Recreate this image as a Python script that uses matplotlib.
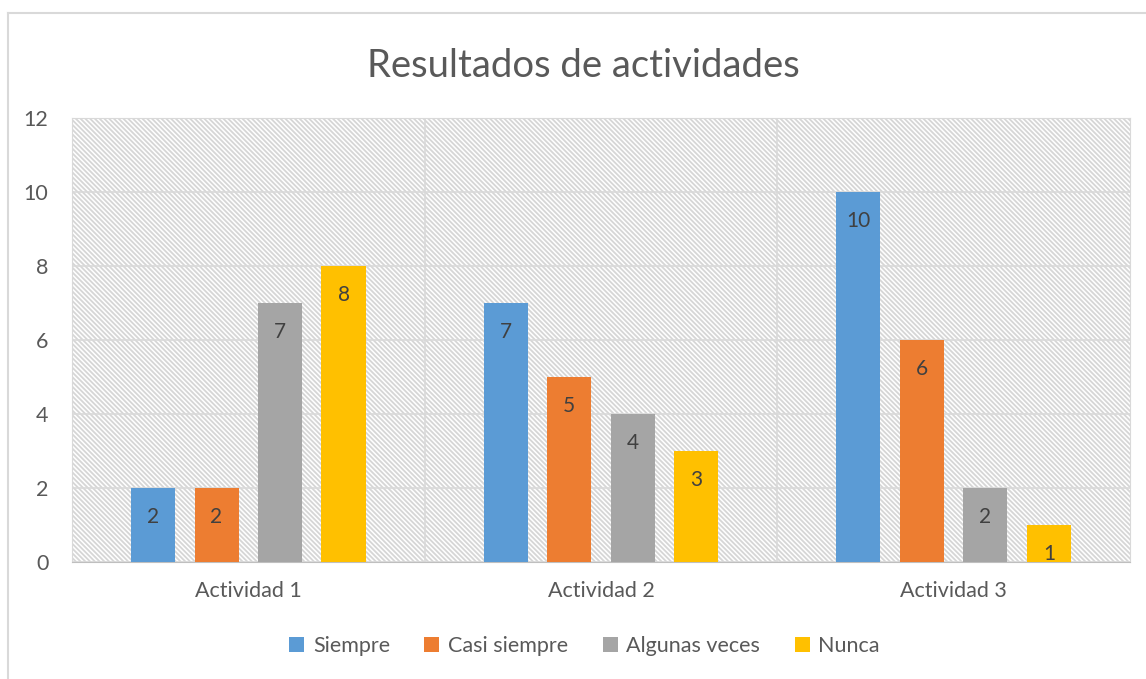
import matplotlib.pyplot as plt
import numpy as np

categorias = ["Actividad 1", "Actividad 2", "Actividad 3"]
series = ["Siempre", "Casi siempre", "Algunas veces", "Nunca"]
siempre = [2, 7, 10]
casi_siempre = [2, 5, 6]
algunas_veces = [7, 4, 2]
nunca = [8, 3, 1]
colores = ["#5B9BD5", "#ED7D31", "#A5A5A5", "#FFC000"]

plt.rcParams['font.family'] = ['Lato', 'DejaVu Sans']
plt.rcParams['hatch.linewidth'] = 1.3
texto = '#595959'

fig = plt.figure(figsize=(11.46, 6.79), dpi=100)
ax = fig.add_axes([0.0628, 0.1723, 0.9232, 0.6539])

# fondo rayado del area de trazado
ax.add_patch(plt.Rectangle((0, 0), 1, 1, transform=ax.transAxes,
                           facecolor='white', edgecolor='#d6d6d6', linewidth=0,
                           hatch='\\' * 7, zorder=0))

x = np.arange(len(categorias))
ancho = 0.125
paso = 0.18
valores = [siempre, casi_siempre, algunas_veces, nunca]
for i, (nombre, vals) in enumerate(zip(series, valores)):
    pos = x + (i - 1.5) * paso
    barras = ax.bar(pos, vals, ancho, color=colores[i], label=nombre, zorder=3)
    for b, v in zip(barras, vals):
        ax.annotate(str(v), (b.get_x() + b.get_width() / 2, v),
                    xytext=(0, -28), textcoords='offset points',
                    ha='center', va='bottom', fontsize=15, color='#404040',
                    zorder=4)

ax.set_xlim(-0.5, 2.5)
ax.set_ylim(0, 12)
ax.set_yticks(range(0, 13, 2))
ax.set_xticks(x)
ax.set_xticklabels(categorias)
ax.tick_params(length=0, labelsize=15.5, colors=texto)
ax.tick_params(axis='y', pad=17)
ax.tick_params(axis='x', pad=14)

ax.grid(axis='y', color='#d9d9d9', linewidth=1.2, zorder=1)
for xv in [0.5, 1.5]:
    ax.axvline(xv, color='#d9d9d9', linewidth=1.2, zorder=1)
for lado in ['top', 'right', 'left']:
    ax.spines[lado].set_color('#d9d9d9')
ax.spines['bottom'].set_color('#bfbfbf')

fig.suptitle("Resultados de actividades", x=0.509, y=0.93, fontsize=27.5, color=texto)

fig.legend(loc='center', bbox_to_anchor=(0.51, 0.048), ncol=4, frameon=False,
           fontsize=15.5, handlelength=0.7, handleheight=0.7, handletextpad=0.4,
           columnspacing=1.6, labelcolor=texto)

# borde del grafico
fig.add_artist(plt.Line2D([0.007, 0.007], [0, 0.981], color='#d9d9d9', lw=1.5))
fig.add_artist(plt.Line2D([0.007, 1], [0.981, 0.981], color='#d9d9d9', lw=1.5))

fig.savefig("out.png", dpi=100)
